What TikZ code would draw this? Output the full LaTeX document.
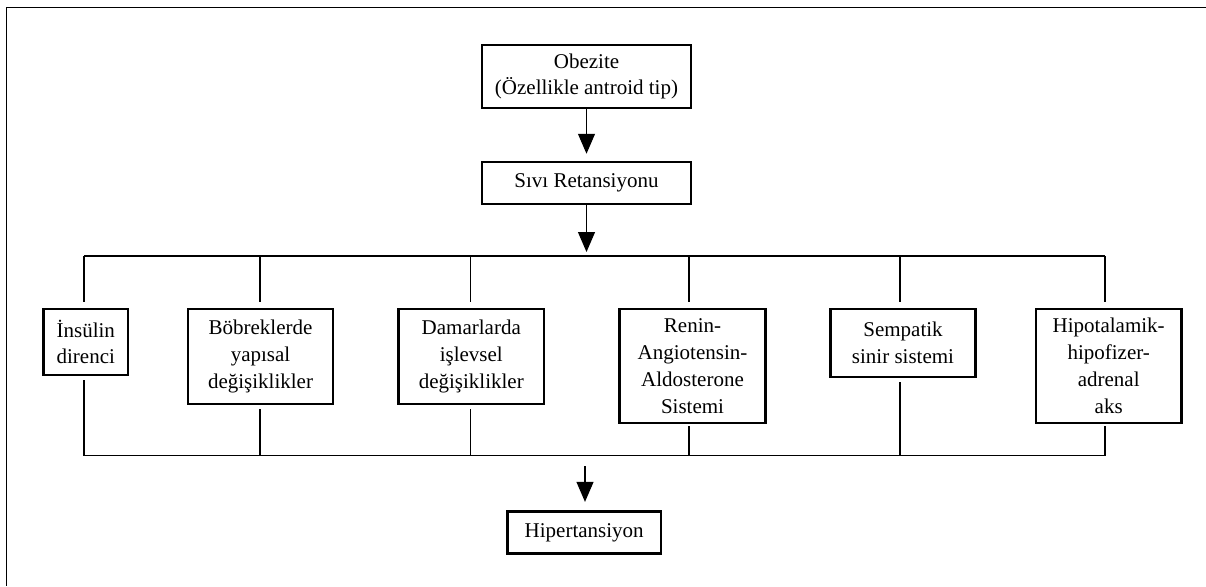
\documentclass[tikz,border=0pt]{standalone}
\usepackage{fontspec}
\setmainfont{Liberation Serif}
\usetikzlibrary{arrows.meta}
\begin{document}
\begin{tikzpicture}[x=0.5pt,y=-0.5pt,
  box/.style={draw, line width=1.25pt, align=center, inner sep=0pt,
    font=\fontsize{10.5}{13.4}\selectfont},
  conn/.style={line width=0.55pt},
  arr/.style={line width=0.55pt, -{Triangle[length=10pt,width=8.5pt]}},
  framel/.style={line width=0.8pt}
]
\useasboundingbox (0,0) rectangle (1206,586);
% frame (top and left edges)
\draw[framel] (1206,7.5) -- (6.5,7.5) -- (6.5,586);

% nodes
\node[box, minimum width=104.5pt, minimum height=31.5pt] (obez) at (586.5,76.5) {Obezite\\(Özellikle antroid tip)};
\node[box, minimum width=104.5pt, minimum height=21pt] (siv) at (586.5,183) {Sıvı Retansiyonu};

\node[box, minimum width=42.25pt, minimum height=33pt] (ins) at (85.8,342) {İnsülin\\direnci};
\node[box, minimum width=72.5pt, minimum height=47.5pt] (bob) at (260.5,356.5) {Böbreklerde\\yapısal\\değişiklikler};
\node[box, minimum width=72.75pt, minimum height=47.5pt] (dam) at (471.3,356.5) {Damarlarda\\işlevsel\\değişiklikler};
\node[box, minimum width=72.85pt, minimum height=56.85pt] (ren) at (692.5,366) {Renin-\\Angiotensin-\\Aldosterone\\Sistemi};
\node[box, minimum width=72.65pt, minimum height=34.15pt] (sem) at (903,343) {Sempatik\\sinir sistemi};
\node[box, minimum width=72.7pt, minimum height=56.85pt] (hpa) at (1108.7,366) {Hipotalamik-\\hipofizer-\\adrenal\\aks};

\node[box, minimum width=76.9pt, minimum height=20.8pt] (hip) at (584.2,532.5) {Hipertansiyon};

% coordinates
\coordinate (busin) at (586.5,252);
\coordinate (tb1) at (84,256);
\coordinate (tb2) at (260,256);
\coordinate (tb3) at (470.5,256);
\coordinate (tb4) at (689,256);
\coordinate (tb5) at (900,256);
\coordinate (tb6) at (1105,256);
\coordinate (bb1) at (84,455.7);
\coordinate (bb2) at (260,455.7);
\coordinate (bb3) at (470.5,455.7);
\coordinate (bb4) at (689,455.7);
\coordinate (bb5) at (900,455.7);
\coordinate (bb6) at (1105,455.7);
\coordinate (bout) at (585,466);

% arrows
\draw[arr, shorten >=3.5pt] (obez.south) -- (siv.north);
\draw[arr] (siv.south) -- (busin);

% top bus and drops
\draw[conn] (tb1) -- (tb6);
\draw[conn, shorten >=3pt] (tb1) -- (tb1 |- ins.north);
\draw[conn, shorten >=3pt] (tb2) -- (tb2 |- bob.north);
\draw[conn, shorten >=3pt] (tb3) -- (tb3 |- dam.north);
\draw[conn, shorten >=3pt] (tb4) -- (tb4 |- ren.north);
\draw[conn, shorten >=3pt] (tb5) -- (tb5 |- sem.north);
\draw[conn, shorten >=3pt] (tb6) -- (tb6 |- hpa.north);

% bottom drops and bus
\draw[conn, shorten <=2pt] (bb1 |- ins.south) -- (bb1);
\draw[conn, shorten <=2pt] (bb2 |- bob.south) -- (bb2);
\draw[conn, shorten <=2pt] (bb3 |- dam.south) -- (bb3);
\draw[conn, shorten <=1pt] (bb4 |- ren.south) -- (bb4);
\draw[conn, shorten <=2pt] (bb5 |- sem.south) -- (bb5);
\draw[conn, shorten <=1pt] (bb6 |- hpa.south) -- (bb6);
\draw[conn] (bb1) -- (bb6);

\draw[arr, shorten >=4.3pt] (bout) -- (bout |- hip.north);
\end{tikzpicture}
\end{document}
